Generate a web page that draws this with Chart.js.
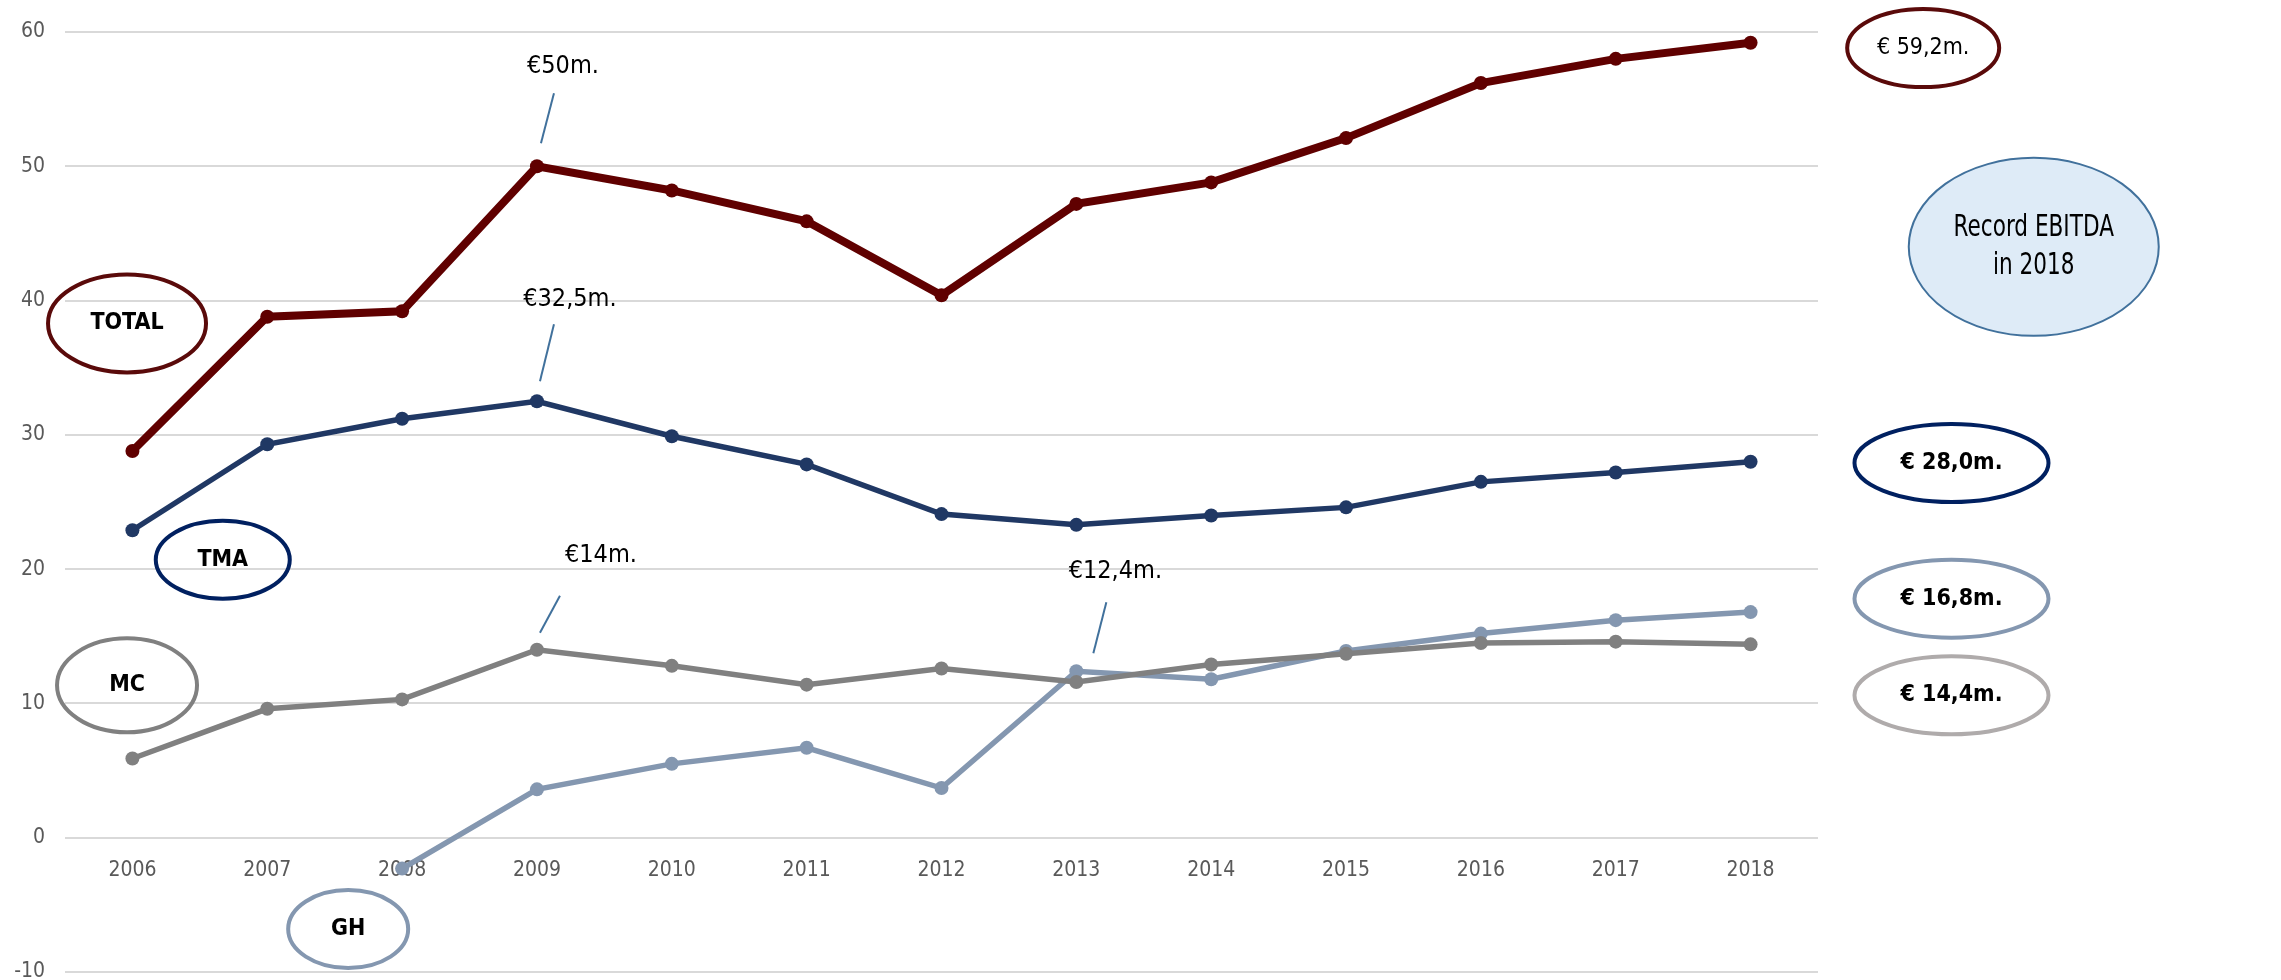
<!DOCTYPE html>
<html>
<head>
<meta charset="utf-8">
<script src="https://cdn.jsdelivr.net/npm/chart.js@4/dist/chart.umd.min.js"></script>
<style>
  html, body { margin: 0; padding: 0; background: #fff; }
  #wrap { width: 2281px; height: 980px; }
</style>
</head>
<body>
<div id="wrap"><canvas id="grafico" width="2281" height="980"></canvas></div>
<script>
// EBITDA por área, em milhões de euros
const anos = ["2006", "2007", "2008", "2009", "2010", "2011", "2012", "2013", "2014", "2015", "2016", "2017", "2018"];
const total = [28.8, 38.8, 39.2, 50.0, 48.2, 45.9, 40.4, 47.2, 48.8, 52.1, 56.2, 58.0, 59.2];
const tma = [22.9, 29.3, 31.2, 32.5, 29.9, 27.8, 24.1, 23.3, 24.0, 24.6, 26.5, 27.2, 28.0];
const mc = [5.9, 9.6, 10.3, 14.0, 12.8, 11.4, 12.6, 11.6, 12.9, 13.7, 14.5, 14.6, 14.4];
const gh = [null, null, -2.3, 3.6, 5.5, 6.7, 3.7, 12.4, 11.8, 13.9, 15.2, 16.2, 16.8];
const nomes = ["TOTAL", "TMA", "MC", "GH"];
const eixoMin = -10;
const eixoMax = 60;
const passo = 10;

const cores = ["#600000", "#203864", "#808080", "#8497B0"];
const fonte = '"Liberation Sans Narrow", "DejaVu Sans Condensed", "Liberation Sans", sans-serif';

function euros(v, casas) {
    return (casas == null ? String(v) : v.toFixed(casas)).replace(".", ",");
}

// texto comprimido na horizontal (letra estreita)
function textoEstreito(ctx, txt, x, y, fator) {
    ctx.save();
    ctx.translate(x, y);
    ctx.scale(fator, 1);
    ctx.fillText(txt, 0, 0);
    ctx.restore();
}

// chamadas com traço até ao ponto (serie, indice do ano, deslocamentos em px)
const chamadas = [
    { serie: 0, ano: 3, tx: 26, ty: -100, l1: [17, -73], l2: [4, -23] },
    { serie: 1, ano: 3, tx: 33, ty: -102, l1: [17, -77], l2: [3, -20] },
    { serie: 2, ano: 3, tx: 64, ty: -94, l1: [23, -54], l2: [3, -17] },
    { serie: 3, ano: 7, tx: 39, ty: -100, l1: [30, -69], l2: [17, -18] }
];

// elipses com o nome de cada série (posição em ano/valor)
const etiquetas = [
    { serie: 0, x: -0.04, y: 38.3, rx: 79, ry: 49 },
    { serie: 1, x: 0.67, y: 20.7, rx: 67, ry: 39 },
    { serie: 2, x: -0.04, y: 11.35, rx: 70, ry: 47 },
    { serie: 3, x: 1.6, y: -6.8, rx: 60, ry: 39 }
];

// valores finais à direita
const finais = [
    { serie: 0, y: 58.8, cor: "#5A0A0A", negrito: false },
    { serie: 1, y: 27.9, cor: "#002060", negrito: true },
    { serie: 3, y: 17.8, cor: "#8497B0", negrito: true },
    { serie: 2, y: 10.6, cor: "#AFABAB", negrito: true }
];

const anotacoes = {
    id: "anotacoes",
    afterDraw(chart) {
        const ctx = chart.ctx;
        const xs = chart.scales.x;
        const ys = chart.scales.y;
        ctx.save();
        ctx.textAlign = "center";
        ctx.textBaseline = "middle";

        chamadas.forEach(c => {
            const p = chart.getDatasetMeta(c.serie).data[c.ano];
            const v = chart.data.datasets[c.serie].data[c.ano];
            ctx.strokeStyle = "#41719C";
            ctx.lineWidth = 2;
            ctx.beginPath();
            ctx.moveTo(p.x + c.l1[0], p.y + c.l1[1]);
            ctx.lineTo(p.x + c.l2[0], p.y + c.l2[1]);
            ctx.stroke();
            ctx.fillStyle = "#000";
            ctx.font = "25px " + fonte;
            ctx.fillText("€" + euros(v) + "m.", p.x + c.tx, p.y + c.ty);
        });

        etiquetas.forEach(e => {
            const x = xs.getPixelForValue(e.x);
            const y = ys.getPixelForValue(e.y);
            ctx.strokeStyle = e.serie === 1 ? "#002060" : e.serie === 0 ? "#5A0A0A" : cores[e.serie];
            ctx.lineWidth = 4;
            ctx.beginPath();
            ctx.ellipse(x, y, e.rx, e.ry, 0, 0, Math.PI * 2);
            ctx.stroke();
            ctx.fillStyle = "#000";
            ctx.font = "bold 23px " + fonte;
            ctx.fillText(nomes[e.serie], x, y);
        });

        finais.forEach(f => {
            const dados = chart.data.datasets[f.serie].data;
            const v = dados[dados.length - 1];
            const x = xs.getPixelForValue(f.negrito ? 13.49 : 13.28);
            const y = ys.getPixelForValue(f.y);
            ctx.strokeStyle = f.cor;
            ctx.lineWidth = 4;
            ctx.beginPath();
            ctx.ellipse(x, y, f.negrito ? 97 : 76, 39, 0, 0, Math.PI * 2);
            ctx.stroke();
            ctx.fillStyle = "#000";
            ctx.font = (f.negrito ? "bold " : "") + "23px " + fonte;
            ctx.fillText("€ " + euros(v, 1) + "m.", x, y);
        });

        // destaque do recorde
        const rx = xs.getPixelForValue(14.1);
        const ry = ys.getPixelForValue(44.0);
        ctx.fillStyle = "#DEEBF7";
        ctx.strokeStyle = "#41719C";
        ctx.lineWidth = 2;
        ctx.beginPath();
        ctx.ellipse(rx, ry, 125, 89, 0, 0, Math.PI * 2);
        ctx.fill();
        ctx.stroke();
        ctx.fillStyle = "#000";
        ctx.font = "30px " + fonte;
        textoEstreito(ctx, "Record EBITDA", rx, ry - 19, 0.8);
        textoEstreito(ctx, "in " + anos[anos.length - 1], rx, ry + 19, 0.8);

        ctx.restore();
    }
};

const series = [total, tma, mc, gh];
const larguras = [8, 5.5, 5.5, 5.5];

new Chart(document.getElementById("grafico"), {
    type: "line",
    data: {
        labels: anos,
        datasets: series.map((d, i) => ({
            label: nomes[i],
            data: d,
            borderColor: cores[i],
            backgroundColor: cores[i],
            pointBackgroundColor: cores[i],
            pointBorderColor: cores[i],
            borderWidth: larguras[i],
            pointRadius: 7,
            pointBorderWidth: 0,
            tension: 0,
            fill: false,
            order: i
        }))
    },
    options: {
        responsive: false,
        animation: false,
        devicePixelRatio: 1,
        layout: { padding: { left: 0, right: 463, top: 32, bottom: 8 } },
        plugins: {
            legend: { display: false },
            tooltip: { enabled: false }
        },
        scales: {
            x: {
                type: "category",
                offset: true,
                position: { y: 0 },
                grid: { display: false },
                border: { display: false },
                ticks: {
                    color: "#595959",
                    padding: 12,
                    maxRotation: 0,
                    font: { family: fonte, size: 21 }
                }
            },
            y: {
                min: eixoMin,
                max: eixoMax,
                afterFit(scale) {
                    // largura fixa e sem margem extra em cima/baixo
                    scale.width = 65;
                    scale.paddingTop = 0;
                    scale.paddingBottom = 0;
                },
                grid: { color: "#D9D9D9", lineWidth: 2, drawTicks: false },
                border: { display: false },
                ticks: {
                    stepSize: passo,
                    color: "#595959",
                    padding: 20,
                    font: { family: fonte, size: 21, lineHeight: 1 }
                }
            }
        }
    },
    plugins: [anotacoes]
});
</script>
</body>
</html>
